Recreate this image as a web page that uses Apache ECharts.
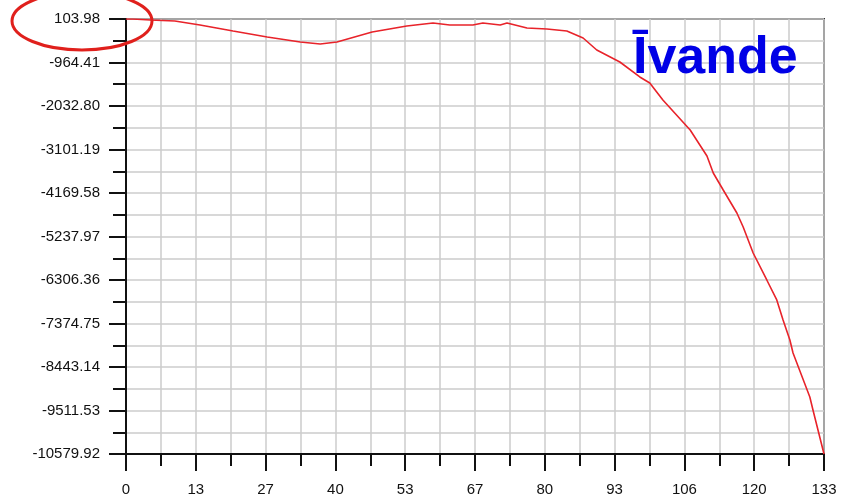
<!DOCTYPE html>
<html>
<head>
<meta charset="utf-8">
<script src="https://cdn.jsdelivr.net/npm/echarts@6/dist/echarts.min.js"></script>
<style>html,body{margin:0;padding:0;background:#fff;}#c{width:847px;height:501px;}</style>
</head>
<body>
<div id="c"></div>
<script>
const titleText = 'Īvande';
const yMin = -10579.92, yMax = 103.98, yStep = 1068.39;
const xMin = 0, xMax = 133, xStep = 13.3;
const xs = [0, 1.3, 4.6, 9.3, 14.1, 20.4, 26.9, 33.2, 37.0, 40.2, 46.9, 53.5, 58.5, 61.7, 66.1, 68.0, 71.3, 72.6, 76.4, 80.2, 84.0, 87.1, 89.7, 94.1, 97.9, 99.8, 102.3, 107.5, 110.7, 111.9, 113.8, 116.4, 117.6, 119.5, 122.1, 124.0, 125.2, 126.5, 127.1, 130.3, 130.9, 133];
const ys = [103.98, 104, 79, 55, -43, -191, -338, -461, -510, -461, -215, -68, 6, -43, -43, 6, -43, 6, -117, -142, -191, -363, -657, -952, -1320, -1468, -1885, -2622, -3261, -3678, -4096, -4661, -5004, -5643, -6306, -6797, -7289, -7780, -8099, -9180, -9499, -10579.92];

const chart = echarts.init(document.getElementById('c'), null, {renderer: 'canvas'});
const gridLine = {show: true, lineStyle: {color: '#cccccc', width: 1.5}};
const labelFont = {color: '#111', fontSize: 15, fontFamily: 'Liberation Sans, Arial, sans-serif'};
chart.setOption({
  animation: false,
  backgroundColor: '#fff',
  title: {
    text: titleText, left: 633, top: 33, padding: 0,
    textStyle: {color: '#0000e6', fontSize: 52, fontWeight: 'bold', fontFamily: 'Liberation Sans, Arial, sans-serif'}
  },
  grid: {left: 126, right: 23, top: 19, bottom: 47, show: true, borderColor: '#333', borderWidth: 2, backgroundColor: 'transparent'},
  xAxis: {
    type: 'value', min: xMin, max: xMax, interval: xStep,
    axisLine: {onZero: false, lineStyle: {color: '#111', width: 2}},
    axisTick: {show: true, length: 17, lineStyle: {color: '#111', width: 2}},
    minorTick: {show: true, splitNumber: 2, length: 12, lineStyle: {color: '#111', width: 2}},
    splitLine: gridLine, minorSplitLine: gridLine,
    axisLabel: Object.assign({margin: 28, formatter: v => String(Math.round(v))}, labelFont)
  },
  yAxis: {
    type: 'value', min: yMin, max: yMax, interval: yStep,
    axisLine: {show: true, onZero: false, lineStyle: {color: '#111', width: 2}},
    axisTick: {show: true, length: 17, lineStyle: {color: '#111', width: 2}},
    minorTick: {show: true, splitNumber: 2, length: 13, lineStyle: {color: '#111', width: 2}},
    splitLine: gridLine, minorSplitLine: gridLine,
    axisLabel: Object.assign({margin: 26, formatter: v => v.toFixed(2)}, labelFont)
  },
  series: [{
    type: 'line', showSymbol: false, symbol: 'none',
    data: xs.map((x, i) => [x, ys[i]]),
    lineStyle: {color: '#e8232a', width: 1.6}
  }],
  graphic: [{
    type: 'ellipse', z: 100,
    shape: {cx: 82, cy: 21, rx: 70, ry: 29},
    style: {fill: 'none', stroke: '#e0201c', lineWidth: 3}
  }]
});
</script>
</body>
</html>
